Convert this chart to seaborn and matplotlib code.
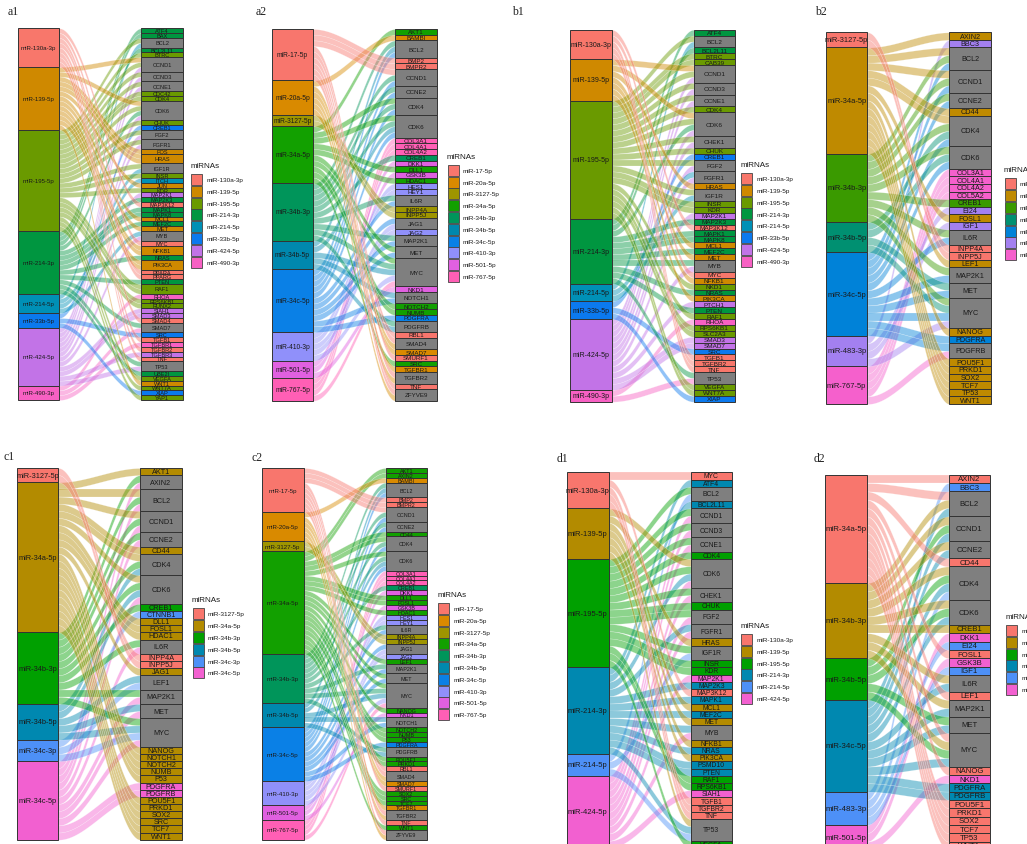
import numpy as np
import matplotlib
matplotlib.use("Agg")
import matplotlib.pyplot as plt
from matplotlib.patches import Rectangle
import seaborn as sns

sns.set_theme(style="white")
plt.rcParams["font.family"] = ["Liberation Sans", "DejaVu Sans"]

# ---------------- data: miRNAs, target genes, and which miRNAs hit each gene ----------------
# a1
A1_MIRNAS = ["miR-130a-3p", "miR-139-5p", "miR-195-5p", "miR-214-3p",
             "miR-214-5p", "miR-33b-5p", "miR-424-5p", "miR-490-3p"]
A1_GENES = ["ATF4", "BAX", "BCL2", "BCL2L11", "BTRC", "CCND1", "CCND3", "CCNE1", "CDC42",
            "CDK4", "CDK6", "CHUK", "CREB1", "FGF2", "FGFR1", "FOS", "HRAS", "IGF1R", "INSR",
            "ITCH", "JUN", "KDR", "MAP2K1", "MAP2K3", "MAP3K12", "MAPK1", "MAPK8", "MCL1",
            "MEF2C", "MET", "MYB", "MYC", "NFKB1", "NRAS", "PIK3CA", "PPARA", "PPARG", "PTEN",
            "RAF1", "RHOA", "RPS6KB1", "RUNX2", "SIAH1", "SMAD3", "SMAD4", "SMAD7", "SRC",
            "TGFB1", "TGFBR1", "TGFBR2", "TGFBR3", "TNF", "TP53", "UBE2I", "VEGFA", "WNT1",
            "WNT7A", "XIAP", "YAP1"]
A1_TARGETS = ["214-3p", "214-3p", "195-5p 214-5p", "214-3p", "195-5p",
              "139-5p 195-5p 424-5p", "195-5p 424-5p", "195-5p 424-5p", "195-5p",
              "195-5p", "139-5p 195-5p 214-3p 424-5p", "195-5p", "33b-5p",
              "195-5p 424-5p", "195-5p 424-5p", "139-5p", "139-5p 139-5p", "195-5p 214-5p",
              "195-5p", "214-5p", "139-5p", "195-5p", "424-5p", "214-3p", "130a-3p",
              "214-3p", "214-3p", "139-5p", "214-3p", "139-5p", "214-5p 424-5p", "130a-3p",
              "139-5p 139-5p", "214-3p", "139-5p 139-5p", "130a-3p", "130a-3p", "214-3p",
              "195-5p 195-5p", "490-3p", "195-5p", "195-5p", "424-5p", "424-5p", "130a-3p",
              "214-3p 490-3p", "33b-5p", "130a-3p", "490-3p", "130a-3p", "424-5p",
              "130a-3p", "214-3p 424-5p", "214-3p", "195-5p", "139-5p", "195-5p",
              "33b-5p", "195-5p"]

# a2
A2_MIRNAS = ["miR-17-5p", "miR-20a-5p", "miR-3127-5p", "miR-34a-5p", "miR-34b-3p",
             "miR-34b-5p", "miR-34c-5p", "miR-410-3p", "miR-501-5p", "miR-767-5p"]
A2_GENES = ["AKT1", "BAMBI", "BCL2", "BMP2", "BMPR2", "CCND1", "CCNE2", "CDK4", "CDK6",
            "COL3A1", "COL4A1", "COL4A2", "CREB1", "DKK1", "DLL1", "GSK3B", "HDAC1", "HES1",
            "HEY1", "IL6R", "INPP4A", "INPP5J", "JAG1", "JAG2", "MAP2K1", "MET", "MYC",
            "NKD1", "NOTCH1", "NOTCH2", "NUMB", "PDGFRA", "PDGFRB", "RBL1", "SMAD4",
            "SMAD7", "SMURF1", "SRC", "TGFBR1", "TGFBR2", "TNF", "ZFYVE9"]
A2_TARGETS = ["34a-5p", "20a-5p", "34b-3p 34b-5p 34c-5p", "17-5p", "17-5p",
              "17-5p 34b-3p 34c-5p", "34b-3p 34c-5p", "34a-5p 34b-3p 34c-5p",
              "34a-5p 34b-3p 34b-5p 34c-5p", "767-5p", "767-5p", "767-5p", "34b-3p",
              "501-5p", "34a-5p", "501-5p", "34a-5p", "410-3p", "410-3p", "34b-3p 34c-5p",
              "3127-5p", "3127-5p", "34c-5p 410-3p", "410-3p", "34b-3p 34c-5p",
              "34a-5p 34c-5p", "34a-5p 34b-3p 34b-5p 410-3p 767-5p", "501-5p",
              "34b-5p 34c-5p", "34a-5p", "34a-5p", "34c-5p", "34b-3p 34b-5p", "17-5p",
              "17-5p 20a-5p", "20a-5p", "17-5p", "34a-5p", "20a-5p", "17-5p 20a-5p",
              "17-5p", "17-5p 20a-5p"]

# b1
B1_MIRNAS = A1_MIRNAS
B1_GENES = ["ATF4", "BCL2", "BCL2L11", "BTRC", "CAB39", "CCND1", "CCND3", "CCNE1", "CDK4",
            "CDK6", "CHEK1", "CHUK", "CREB1", "FGF2", "FGFR1", "HRAS", "IGF1R", "INSR", "KDR",
            "MAP2K1", "MAP2K3", "MAP3K12", "MAPK1", "MAPK8", "MCL1", "MEF2C", "MET", "MYB",
            "MYC", "NFKB1", "NKD1", "NRAS", "PIK3CA", "PTCH1", "PTEN", "RAF1", "RHOA",
            "RPS6KB1", "SLC2A3", "SMAD3", "SMAD7", "SRC", "TGFB1", "TGFBR2", "TNF", "TP53",
            "VEGFA", "WNT7A", "XIAP"]
B1_TARGETS = ["214-3p", "195-5p 214-5p", "214-3p", "195-5p", "195-5p",
              "139-5p 195-5p 424-5p", "195-5p 424-5p", "195-5p 424-5p", "195-5p",
              "139-5p 195-5p 214-3p 424-5p", "195-5p 424-5p", "195-5p", "33b-5p",
              "195-5p 424-5p", "214-5p 424-5p", "139-5p", "195-5p 214-5p", "195-5p",
              "195-5p", "424-5p", "214-3p", "130a-3p", "214-3p", "214-3p", "139-5p",
              "214-3p", "139-5p", "214-3p 424-5p", "130a-3p", "139-5p", "195-5p", "214-3p",
              "139-5p", "424-5p", "214-3p", "195-5p", "490-3p", "195-5p", "195-5p",
              "424-5p", "424-5p", "33b-5p", "130a-3p", "130a-3p", "130a-3p",
              "214-3p 490-3p", "195-5p", "195-5p", "33b-5p"]

# b2
B2_MIRNAS = ["miR-3127-5p", "miR-34a-5p", "miR-34b-3p", "miR-34b-5p", "miR-34c-5p",
             "miR-483-3p", "miR-767-5p"]
B2_GENES = ["AXIN2", "BBC3", "BCL2", "CCND1", "CCNE2", "CD44", "CDK4", "CDK6", "COL3A1",
            "COL4A1", "COL4A2", "COL5A2", "CREB1", "EI24", "FOSL1", "IGF1", "IL6R", "INPP4A",
            "INPP5J", "LEF1", "MAP2K1", "MET", "MYC", "NANOG", "PDGFRA", "PDGFRB", "POU5F1",
            "PRKD1", "SOX2", "TCF7", "TP53", "WNT1"]
B2_TARGETS = ["34a-5p", "483-3p", "34a-5p 34b-3p 34c-5p", "34a-5p 34b-3p 34c-5p",
              "34b-3p 34c-5p", "34a-5p", "34a-5p 34b-3p 34b-5p 34c-5p",
              "34b-3p 34b-5p 34c-5p", "767-5p", "767-5p", "767-5p", "767-5p", "34b-3p",
              "483-3p", "34a-5p", "483-3p", "34b-3p 34c-5p", "3127-5p", "3127-5p", "34a-5p",
              "34b-3p 34c-5p", "34b-5p 34c-5p", "34b-3p 34b-5p 34c-5p 483-3p", "34a-5p",
              "34c-5p", "34c-5p 767-5p", "34a-5p", "34a-5p", "34a-5p", "34a-5p", "34a-5p",
              "34a-5p"]

# c1
C1_MIRNAS = ["miR-3127-5p", "miR-34a-5p", "miR-34b-3p", "miR-34b-5p", "miR-34c-3p",
             "miR-34c-5p"]
C1_GENES = ["AKT1", "AXIN2", "BCL2", "CCND1", "CCNE2", "CD44", "CDK4", "CDK6", "CREB1",
            "CTNNB1", "DLL1", "FOSL1", "HDAC1", "IL6R", "INPP4A", "INPP5J", "JAG1", "LEF1",
            "MAP2K1", "MET", "MYC", "NANOG", "NOTCH1", "NOTCH2", "NUMB", "P53", "PDGFRA",
            "PDGFRB", "POU5F1", "PRKD1", "SOX2", "SRC", "TCF7", "WNT1"]
C1_TARGETS = ["34a-5p", "34b-3p 34c-5p", "34a-5p 34b-3p 34c-5p", "34a-5p 34b-3p 34c-5p",
              "34b-3p 34c-5p", "34a-5p", "34a-5p 34b-3p 34b-5p",
              "34a-5p 34b-3p 34b-5p 34c-5p", "34b-3p", "34c-3p", "34a-5p", "34a-5p",
              "34a-5p", "34b-3p 34c-5p", "3127-5p", "3127-5p", "34a-5p", "34b-5p 34c-3p",
              "34b-3p 34c-5p", "34b-5p 34c-5p", "34b-3p 34b-5p 34c-3p 34c-5p", "34a-5p",
              "34a-5p", "34a-5p", "34a-5p", "34a-5p", "34c-5p", "34c-5p", "34a-5p",
              "34a-5p", "34a-5p", "34a-5p", "34a-5p", "34a-5p"]

# c2
C2_MIRNAS = A2_MIRNAS
C2_GENES = ["AKT1", "AXIN2", "BAMBI", "BCL2", "BMP2", "BMPR2", "CCND1", "CCNE2", "CD44",
            "CDK4", "CDK6", "COL3A1", "COL4A1", "COL4A2", "CREB1", "DKK1", "DLL1", "FOSL1",
            "GSK3B", "HDAC1", "HES1", "HEY1", "IL6R", "INPP4A", "INPP5J", "JAG1", "JAG2",
            "LEF1", "MAP2K1", "MET", "MYC", "NANOG", "NKD1", "NOTCH1", "NOTCH2", "NUMB",
            "P53", "PDGFRA", "PDGFRB", "POU5F1", "PRKD1", "RBL1", "SMAD4", "SMAD7",
            "SMURF1", "SOX2", "SRC", "TCF7", "TGFBR1", "TGFBR2", "TNF", "WNT1", "ZFYVE9"]
C2_TARGETS = ["34a-5p", "34a-5p", "20a-5p", "34b-3p 34b-5p 34c-5p", "17-5p", "17-5p",
              "17-5p 34b-3p 34c-5p", "34b-3p 34c-5p", "34a-5p", "34a-5p 34b-3p 34c-5p",
              "34a-5p 34b-3p 34b-5p 34c-5p", "767-5p", "767-5p", "767-5p", "34b-3p",
              "501-5p", "34a-5p", "34a-5p", "501-5p", "34a-5p", "410-3p", "410-3p",
              "34b-3p 34c-5p", "3127-5p", "3127-5p", "34c-5p 410-3p", "410-3p", "34a-5p",
              "34b-3p 34c-5p", "34a-5p 34c-5p", "34a-5p 34b-3p 34b-5p 410-3p 767-5p",
              "34a-5p", "501-5p", "34b-5p 34c-5p", "34a-5p", "34a-5p", "34a-5p", "34c-5p",
              "34b-3p 34b-5p", "34a-5p", "34a-5p", "17-5p", "17-5p 20a-5p", "20a-5p",
              "17-5p", "34a-5p", "34a-5p", "34a-5p", "20a-5p", "17-5p 20a-5p", "17-5p",
              "34a-5p", "17-5p 20a-5p"]

# d1
D1_MIRNAS = ["miR-130a-3p", "miR-139-5p", "miR-195-5p", "miR-214-3p", "miR-214-5p",
             "miR-424-5p"]
D1_GENES = ["MYC", "ATF4", "BCL2", "BCL2L11", "CCND1", "CCND3", "CCNE1", "CDK4", "CDK6",
            "CHEK1", "CHUK", "FGF2", "FGFR1", "HRAS", "IGF1R", "INSR", "KDR", "MAP2K1",
            "MAP2K3", "MAP3K12", "MAPK1", "MCL1", "MEF2C", "MET", "MYB", "NFKB1", "NRAS",
            "PIK3CA", "PSMD10", "PTEN", "RAF1", "RPS6KB1", "SIAH1", "TGFB1", "TGFBR2", "TNF",
            "TP53", "VEGFA"]
D1_TARGETS = ["130a-3p", "214-3p", "195-5p 214-5p", "214-3p", "195-5p 424-5p",
              "195-5p 424-5p", "195-5p 424-5p", "195-5p", "139-5p 195-5p 214-3p 424-5p",
              "195-5p 424-5p", "195-5p", "195-5p 424-5p", "214-3p 424-5p", "139-5p",
              "195-5p 214-5p", "195-5p", "195-5p", "424-5p", "214-3p", "130a-3p", "214-3p",
              "139-5p", "214-3p", "139-5p", "214-3p 424-5p", "139-5p", "214-3p", "139-5p",
              "214-3p", "214-3p", "195-5p", "195-5p", "424-5p", "130a-3p", "130a-3p",
              "130a-3p", "139-5p 214-3p 214-5p", "195-5p"]

# d2
D2_MIRNAS = ["miR-34a-5p", "miR-34b-3p", "miR-34b-5p", "miR-34c-5p", "miR-483-3p",
             "miR-501-5p"]
D2_GENES = ["AXIN2", "BBC3", "BCL2", "CCND1", "CCNE2", "CD44", "CDK4", "CDK6", "CREB1",
            "DKK1", "EI24", "FOSL1", "GSK3B", "IGF1", "IL6R", "LEF1", "MAP2K1", "MET", "MYC",
            "NANOG", "NKD1", "PDGFRA", "PDGFRB", "POU5F1", "PRKD1", "SOX2", "TCF7", "TP53",
            "WNT1"]
D2_TARGETS = ["34a-5p", "483-3p", "34a-5p 34b-3p 34c-5p", "34b-3p 34b-5p 34c-5p",
              "34b-3p 34c-5p", "34a-5p", "34b-3p 34b-5p 34c-5p 483-3p",
              "34b-3p 34b-5p 34c-5p", "34b-3p", "501-5p", "483-3p", "34a-5p", "501-5p",
              "483-3p", "34b-3p 34c-5p", "34a-5p", "34b-3p 34c-5p", "34b-5p 34c-5p",
              "34a-5p 34b-3p 34b-5p 34c-5p", "34a-5p", "501-5p", "34c-5p", "34c-5p",
              "34a-5p", "34a-5p", "34a-5p", "34a-5p", "34a-5p", "34a-5p"]

# ---------------- palettes ----------------
PAL8 = ["#F8776B", "#CF8900", "#6A9A00", "#009640", "#0090B6", "#0B79EE", "#C273E7", "#F760C3"]
PAL10 = ["#F8766D", "#D98A00", "#9E9500", "#12A000", "#00955A", "#0088AE", "#0A80E6",
         "#9090FA", "#E060E0", "#FF5FB5"]
PAL7 = ["#F8766D", "#BF8A00", "#3A9A00", "#009071", "#0082D8", "#A380F0", "#F560CC"]
PAL6 = ["#F8766D", "#B38B00", "#00A000", "#0088B0", "#4D90F7", "#F260D0"]

GRAY = "#7F7F7F"
EDGE = "#333333"
W, H = 1027, 845
GAP = 123.5      # px between column centres
BOX = 41.5       # px box width
WB = BOX / GAP   # box width in data units

fig = plt.figure(figsize=(W / 100, H / 100), dpi=100)
fig.patch.set_facecolor("white")


def draw_panel(mirnas, genes, targets, colors, cl, top, bottom, fs_mir, fs_gene):
    edges = []
    for gi, t in enumerate(targets):
        for m in t.split():
            edges.append((mirnas.index("miR-" + m), gi))
    n_m = np.bincount([e[0] for e in edges], minlength=len(mirnas))
    n_g = np.bincount([e[1] for e in edges], minlength=len(genes))
    m_start = np.concatenate([[0], np.cumsum(n_m)[:-1]])
    g_start = np.concatenate([[0], np.cumsum(n_g)[:-1]])
    total = n_m.sum()

    left = cl - BOX / 2
    right = cl + GAP + BOX / 2
    ax = fig.add_axes([left / W, 1 - bottom / H, (right - left) / W, (bottom - top) / H])
    ax.set_xlim(-WB / 2, 1 + WB / 2)
    ax.set_ylim(total, 0)
    ax.axis("off")

    # lode slots on each side
    lpos, rpos = {}, {}
    fill = m_start.astype(float).copy()
    for k in sorted(range(len(edges)), key=lambda k: (edges[k][0], edges[k][1])):
        lpos[k] = fill[edges[k][0]]
        fill[edges[k][0]] += 1
    fill = g_start.astype(float).copy()
    for k in sorted(range(len(edges)), key=lambda k: (edges[k][1], edges[k][0])):
        rpos[k] = fill[edges[k][1]]
        fill[edges[k][1]] += 1

    x0, x1 = WB / 2, 1 - WB / 2
    xs = np.linspace(x0, x1, 80)
    t = (xs - x0) / (x1 - x0)
    s = t * t * (3 - 2 * t)
    for k, (mi, gi) in enumerate(edges):
        ya, yb = lpos[k], rpos[k]
        y_top = ya + (yb - ya) * s
        ax.fill_between(xs, y_top, y_top + 1, color=colors[mi], alpha=0.45,
                        lw=0.3, edgecolor=(1, 1, 1, 0.5), zorder=1)

    ax.bar(np.zeros(len(mirnas)), n_m, bottom=m_start, width=WB, color=colors,
           edgecolor=EDGE, linewidth=0.7, zorder=3, clip_on=False)
    gcols = []
    for t_ in targets:
        ms = set(t_.split())
        gcols.append(colors[mirnas.index("miR-" + ms.pop())] if len(ms) == 1 else GRAY)
    ax.bar(np.ones(len(genes)), n_g, bottom=g_start, width=WB, color=gcols,
           edgecolor=EDGE, linewidth=0.7, zorder=3, clip_on=False)

    for name, st, n in zip(mirnas, m_start, n_m):
        ax.text(0, st + n / 2, name, ha="center", va="center", fontsize=fs_mir,
                color="#1A1A1A", zorder=4)
    for name, st, n in zip(genes, g_start, n_g):
        ax.text(1, st + n / 2, name, ha="center", va="center", fontsize=fs_gene,
                color="#1A1A1A", zorder=4)


# overlay in pixel coordinates for legends and panel tags
lax = fig.add_axes([0, 0, 1, 1], zorder=5)
lax.set_xlim(0, W)
lax.set_ylim(H, 0)
lax.axis("off")


def draw_legend(mirnas, colors, sx, sy):
    lax.text(sx - 0.5, sy - 8.5, "miRNAs", fontsize=5.8, va="center", ha="left",
             color="#1A1A1A")
    for i, (m, c) in enumerate(zip(mirnas, colors)):
        y = sy + i * 11.8
        lax.add_patch(Rectangle((sx, y), 11, 11, facecolor=c, edgecolor="#444444", lw=0.6))
        lax.text(sx + 15.5, y + 5.6, m, fontsize=4.6, va="center", ha="left",
                 color="#1A1A1A")


panels = [
    # tag, mirnas, genes, targets, palette, left-centre, top, bottom, tag pos, legend pos, fonts
    ("a1", A1_MIRNAS, A1_GENES, A1_TARGETS, PAL8, 38.5, 29.3, 401, (8, 12), (191, 175), (4.4, 4.1)),
    ("a2", A2_MIRNAS, A2_GENES, A2_TARGETS, PAL10, 292.5, 30, 401.7, (256, 12), (447.5, 165.7), (4.8, 4.5)),
    ("b1", B1_MIRNAS, B1_GENES, B1_TARGETS, PAL8, 590.8, 30.7, 402.7, (512, 12), (741, 174), (5.0, 4.6)),
    ("b2", B2_MIRNAS, B2_GENES, B2_TARGETS, PAL7, 846.7, 33.3, 405, (815, 12), (1004.5, 179.3), (5.4, 5.2)),
    ("c1", C1_MIRNAS, C1_GENES, C1_TARGETS, PAL6, 37.5, 469, 840.7, (4, 457), (192.5, 609.3), (5.3, 5.2)),
    ("c2", C2_MIRNAS, C2_GENES, C2_TARGETS, PAL10, 282.8, 469, 840.7, (252, 458), (437.7, 604), (4.4, 3.9)),
    ("d1", D1_MIRNAS, D1_GENES, D1_TARGETS, PAL6, 587.8, 473.3, 849, (557, 459), (741, 635), (5.5, 4.9)),
    ("d2", D2_MIRNAS, D2_GENES, D2_TARGETS, PAL6, 845.8, 475.7, 851, (814, 459), (1006, 626), (5.7, 5.6)),
]

for tag, mir, gen, tg, pal, cl, top, bot, tpos, lpos, fs in panels:
    draw_panel(mir, gen, tg, pal, cl, top, bot, fs[0], fs[1])
    draw_legend(mir, pal, *lpos)
    lax.text(tpos[0], tpos[1], tag, fontsize=8.5, family="Liberation Serif",
             va="center", ha="left", color="#222222")

fig.savefig("out.png", dpi=100, facecolor="white")
